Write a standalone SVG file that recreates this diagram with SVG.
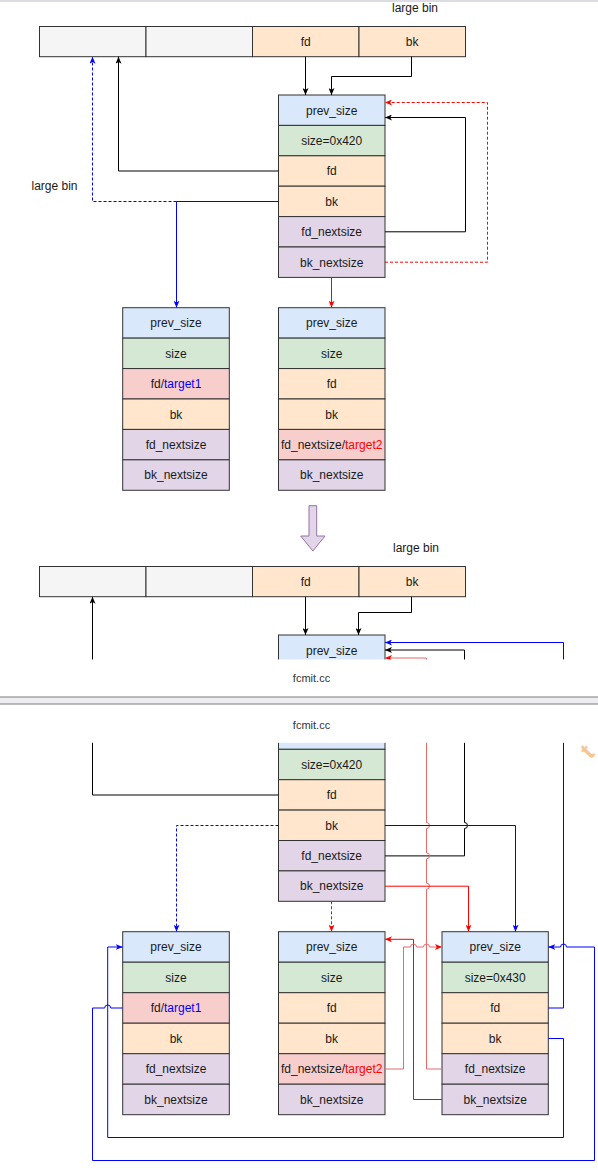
<svg xmlns="http://www.w3.org/2000/svg" width="598" height="1170" viewBox="0 0 598 1170">
<style>
.t{font-family:"Liberation Sans",Arial,Helvetica,sans-serif;font-size:12px;fill:#1a1a1a;text-anchor:middle}
.f{font-family:"Liberation Sans",Arial,Helvetica,sans-serif;font-size:11px;fill:#333;text-anchor:middle}
.c{stroke:#333;stroke-width:1}
.ps{fill:#dae8fc}.sz{fill:#d5e8d4}.fb{fill:#ffe6cc}.ns{fill:#e1d5e7}.tg{fill:#f8cecc}.gr{fill:#f5f5f5}
.k{fill:none;stroke:#000;stroke-width:1;marker-end:url(#ak)}
.b{fill:none;stroke:#0000ff;stroke-width:1;marker-end:url(#ab)}
.r{fill:none;stroke:#ff0000;stroke-width:1;marker-end:url(#ar)}
.lr{fill:none;stroke:#e56b6b;stroke-width:1;marker-end:url(#alr)}
.d{stroke-dasharray:3 2}
</style>
<defs>
<marker id="ak" viewBox="0 0 7 6" refX="7" refY="3" markerWidth="7" markerHeight="6" markerUnits="userSpaceOnUse" orient="auto"><path d="M0,0 L7,3 L0,6 L1.8,3Z" fill="#000"/></marker>
<marker id="ab" viewBox="0 0 7 6" refX="7" refY="3" markerWidth="7" markerHeight="6" markerUnits="userSpaceOnUse" orient="auto"><path d="M0,0 L7,3 L0,6 L1.8,3Z" fill="#0000ff"/></marker>
<marker id="ar" viewBox="0 0 7 6" refX="7" refY="3" markerWidth="7" markerHeight="6" markerUnits="userSpaceOnUse" orient="auto"><path d="M0,0 L7,3 L0,6 L1.8,3Z" fill="#ff0000"/></marker>
<marker id="alr" viewBox="0 0 7 6" refX="7" refY="3" markerWidth="7" markerHeight="6" markerUnits="userSpaceOnUse" orient="auto"><path d="M0,0 L7,3 L0,6 L1.8,3Z" fill="#ff0000"/></marker>
</defs>
<rect width="598" height="1170" fill="#fff"/>
<line x1="0" y1="1" x2="598" y2="1" stroke="#d0d0d8" stroke-width="1.5"/>

<!-- labels -->
<text class="t" x="415" y="12">large bin</text>
<text class="t" x="54.5" y="190">large bin</text>
<text class="t" x="416" y="552">large bin</text>

<!-- top bin bar -->
<g id="bin1">
<rect class="c gr" x="39.5" y="26.5" width="106.5" height="30.2"/>
<rect class="c gr" x="146" y="26.5" width="106.5" height="30.2"/>
<rect class="c fb" x="252.5" y="26.5" width="106.5" height="30.2"/>
<rect class="c fb" x="359" y="26.5" width="106.5" height="30.2"/>
<text class="t" x="305.7" y="45.6">fd</text>
<text class="t" x="412.2" y="45.6">bk</text>
</g>

<g id="chunkA">
<rect class="c ps" x="278.5" y="95" width="106.5" height="30.4"/>
<rect class="c sz" x="278.5" y="125.4" width="106.5" height="30.4"/>
<rect class="c fb" x="278.5" y="155.8" width="106.5" height="30.4"/>
<rect class="c fb" x="278.5" y="186.2" width="106.5" height="30.4"/>
<rect class="c ns" x="278.5" y="216.6" width="106.5" height="30.4"/>
<rect class="c ns" x="278.5" y="247" width="106.5" height="30.4"/>
<text class="t" x="331.7" y="114.5">prev_size</text>
<text class="t" x="331.7" y="144.9">size=0x420</text>
<text class="t" x="331.7" y="175.3">fd</text>
<text class="t" x="331.7" y="205.7">bk</text>
<text class="t" x="331.7" y="236.1">fd_nextsize</text>
<text class="t" x="331.7" y="266.5">bk_nextsize</text>
</g>

<g id="chunkL1">
<rect class="c ps" x="122.7" y="307.7" width="106.6" height="30.43"/>
<rect class="c sz" x="122.7" y="338.13" width="106.6" height="30.43"/>
<rect class="c tg" x="122.7" y="368.56" width="106.6" height="30.43"/>
<rect class="c fb" x="122.7" y="398.99" width="106.6" height="30.43"/>
<rect class="c ns" x="122.7" y="429.42" width="106.6" height="30.43"/>
<rect class="c ns" x="122.7" y="459.85" width="106.6" height="30.43"/>
<text class="t" x="176" y="327.2">prev_size</text>
<text class="t" x="176" y="357.6">size</text>
<text class="t" x="176" y="388">fd/<tspan fill="#0000ff">target1</tspan></text>
<text class="t" x="176" y="418.5">bk</text>
<text class="t" x="176" y="448.9">fd_nextsize</text>
<text class="t" x="176" y="479.3">bk_nextsize</text>
</g>

<g id="chunkR1">
<rect class="c ps" x="278.5" y="307.7" width="106.5" height="30.43"/>
<rect class="c sz" x="278.5" y="338.13" width="106.5" height="30.43"/>
<rect class="c fb" x="278.5" y="368.56" width="106.5" height="30.43"/>
<rect class="c fb" x="278.5" y="398.99" width="106.5" height="30.43"/>
<rect class="c tg" x="278.5" y="429.42" width="106.5" height="30.43"/>
<rect class="c ns" x="278.5" y="459.85" width="106.5" height="30.43"/>
<text class="t" x="331.7" y="327.2">prev_size</text>
<text class="t" x="331.7" y="357.6">size</text>
<text class="t" x="331.7" y="388">fd</text>
<text class="t" x="331.7" y="418.5">bk</text>
<text class="t" x="331.7" y="448.9">fd_nextsize/<tspan fill="#ff0000">target2</tspan></text>
<text class="t" x="331.7" y="479.3">bk_nextsize</text>
</g>

<g id="transition">
<path d="M309,505.7 H316.7 V536 H325 L312.9,551 L300.7,536 H309 Z" fill="#e1d5e7" stroke="#9673a6" stroke-width="1"/>
</g>

<g id="bin2">
<rect class="c gr" x="39.5" y="566.5" width="106.5" height="30.2"/>
<rect class="c gr" x="146" y="566.5" width="106.5" height="30.2"/>
<rect class="c fb" x="252.5" y="566.5" width="106.5" height="30.2"/>
<rect class="c fb" x="359" y="566.5" width="106.5" height="30.2"/>
<text class="t" x="305.7" y="585.6">fd</text>
<text class="t" x="412.2" y="585.6">bk</text>
</g>

<g id="chunkB">
<rect class="c ps" x="278.5" y="635" width="106.5" height="30.4"/>
<text class="t" x="331.7" y="654.5">prev_size</text>
<rect class="c ps" x="278.5" y="718.9" width="106.5" height="30.4"/>
<rect class="c sz" x="278.5" y="749.3" width="106.5" height="30.4"/>
<rect class="c fb" x="278.5" y="779.7" width="106.5" height="30.4"/>
<rect class="c fb" x="278.5" y="810.1" width="106.5" height="30.4"/>
<rect class="c ns" x="278.5" y="840.5" width="106.5" height="30.4"/>
<rect class="c ns" x="278.5" y="870.9" width="106.5" height="30.4"/>
<text class="t" x="331.7" y="768.8">size=0x420</text>
<text class="t" x="331.7" y="799.2">fd</text>
<text class="t" x="331.7" y="829.6">bk</text>
<text class="t" x="331.7" y="860">fd_nextsize</text>
<text class="t" x="331.7" y="890.4">bk_nextsize</text>
</g>

<g id="chunkC">
<rect class="c ps" x="122.7" y="931.7" width="106.6" height="30.5"/>
<rect class="c sz" x="122.7" y="962.2" width="106.6" height="30.5"/>
<rect class="c tg" x="122.7" y="992.7" width="106.6" height="30.5"/>
<rect class="c fb" x="122.7" y="1023.2" width="106.6" height="30.5"/>
<rect class="c ns" x="122.7" y="1053.7" width="106.6" height="30.5"/>
<rect class="c ns" x="122.7" y="1084.2" width="106.6" height="30.5"/>
<text class="t" x="176" y="951.2">prev_size</text>
<text class="t" x="176" y="981.7">size</text>
<text class="t" x="176" y="1012.2">fd/<tspan fill="#0000ff">target1</tspan></text>
<text class="t" x="176" y="1042.7">bk</text>
<text class="t" x="176" y="1073.2">fd_nextsize</text>
<text class="t" x="176" y="1103.7">bk_nextsize</text>
</g>

<g id="chunkE">
<rect class="c ps" x="278.5" y="931.7" width="106.5" height="30.5"/>
<rect class="c sz" x="278.5" y="962.2" width="106.5" height="30.5"/>
<rect class="c fb" x="278.5" y="992.7" width="106.5" height="30.5"/>
<rect class="c fb" x="278.5" y="1023.2" width="106.5" height="30.5"/>
<rect class="c tg" x="278.5" y="1053.7" width="106.5" height="30.5"/>
<rect class="c ns" x="278.5" y="1084.2" width="106.5" height="30.5"/>
<text class="t" x="331.7" y="951.2">prev_size</text>
<text class="t" x="331.7" y="981.7">size</text>
<text class="t" x="331.7" y="1012.2">fd</text>
<text class="t" x="331.7" y="1042.7">bk</text>
<text class="t" x="331.7" y="1073.2">fd_nextsize/<tspan fill="#ff0000">target2</tspan></text>
<text class="t" x="331.7" y="1103.7">bk_nextsize</text>
</g>

<g id="chunkD">
<rect class="c ps" x="442" y="931.7" width="106.3" height="30.5"/>
<rect class="c sz" x="442" y="962.2" width="106.3" height="30.5"/>
<rect class="c fb" x="442" y="992.7" width="106.3" height="30.5"/>
<rect class="c fb" x="442" y="1023.2" width="106.3" height="30.5"/>
<rect class="c ns" x="442" y="1053.7" width="106.3" height="30.5"/>
<rect class="c ns" x="442" y="1084.2" width="106.3" height="30.5"/>
<text class="t" x="495.2" y="951.2">prev_size</text>
<text class="t" x="495.2" y="981.7">size=0x430</text>
<text class="t" x="495.2" y="1012.2">fd</text>
<text class="t" x="495.2" y="1042.7">bk</text>
<text class="t" x="495.2" y="1073.2">fd_nextsize</text>
<text class="t" x="495.2" y="1103.7">bk_nextsize</text>
</g>

<g id="connectors">
<!-- before -->
<path class="k" d="M305.5,56.7 V95"/>
<path class="k" d="M411.5,56.7 V76.5 H331.5 V95"/>
<path class="k" d="M278.5,171 H118.5 V56.7"/>
<path class="b d" d="M176.5,201.5 H92.5 V56.7"/>
<path class="b" d="M278.5,201.5 H176.5 V307.7"/>
<path class="k" d="M385,231.8 H465.5 V117.5 H385"/>
<path class="r d" d="M385,262.2 H487.5 V102.5 H385"/>
<path class="r" d="M331.5,277.4 V307.7"/>
<!-- after -->
<path class="k" d="M305.5,596.7 V635"/>
<path class="k" d="M411.5,596.7 V612.5 H358.5 V635"/>
<path class="k" d="M278.5,795 H92.5 V596.7"/>
<path class="k" d="M385,855.9 H464.5 V828.5 A3,3 0 0 0 464.5,822.5 V650 H385"/>
<path class="lr" d="M442,1069 H426.5 V889.2 A3,3 0 0 0 426.5,883.2 V858.9 A3,3 0 0 0 426.5,852.9 V828.5 A3,3 0 0 0 426.5,822.5 V658 H385"/>
<path class="b" d="M548.3,1008 H563.5 V642.5 H385"/>
<path class="b" d="M385,825.5 H515.5 V931.7"/>
<path class="b d" d="M278.5,825.5 H176.5 V931.7"/>
<path class="r" d="M385,886.2 H468.5 V931.7"/>
<path class="r d" d="M331.5,901.3 V931.7"/>
<path class="r" d="M442,1099.5 H413.5 V939.3 H385"/>
<path class="lr" d="M385,1069 H403.5 V947 H410.5 A3,3 0 0 1 416.5,947 H423.5 A3,3 0 0 1 429.5,947 H442"/>
<path class="b" d="M548.3,1038.5 H563.5 V1137.5 H107.7 V947 H122.7"/>
<path class="b" d="M122.7,1008 H110.7 A3,3 0 0 0 104.7,1008 H92.5 V1160.5 H594.5 V947 H566.5 A3,3 0 0 0 560.5,947 H548.3"/>
</g>

<!-- page break -->
<rect x="0" y="659.5" width="598" height="83.3" fill="#fff"/>
<rect x="0" y="697" width="598" height="7" fill="#eeeef2"/>
<line x1="0" y1="697" x2="598" y2="697" stroke="#7a7a7a" stroke-width="1"/>
<line x1="0" y1="704" x2="598" y2="704" stroke="#7a7a7a" stroke-width="1"/>
<text class="f" x="311.5" y="682">fcmit.cc</text>
<text class="f" x="311.5" y="729">fcmit.cc</text>
<text x="590" y="760" transform="rotate(-45 590 760)" font-family="Liberation Sans, Arial, sans-serif" font-size="24" font-weight="bold" fill="#f7c592">t</text>
</svg>
